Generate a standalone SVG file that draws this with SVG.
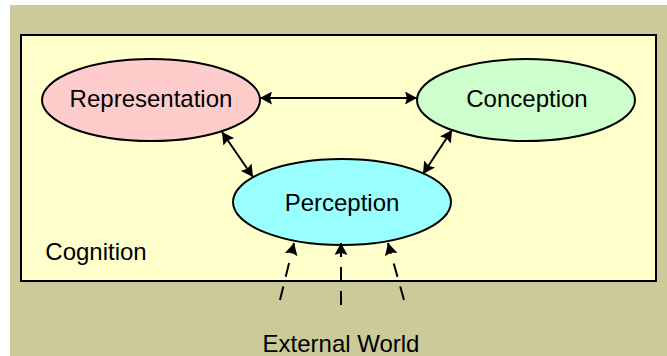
<svg xmlns="http://www.w3.org/2000/svg" width="667" height="356" viewBox="0 0 667 356">
<defs>
<style>
.lbl{font-family:"Liberation Sans",Arial,sans-serif;font-size:24px;fill:#000;text-anchor:middle}
.node{stroke:#000;stroke-width:2}
.conn{stroke:#000;stroke-width:2;fill:none}
.dash{stroke-dasharray:14 10}
</style>
<marker id="ah" viewBox="0 0 12 13" refX="12" refY="6.5" markerWidth="12" markerHeight="13" markerUnits="userSpaceOnUse" orient="auto-start-reverse">
<path d="M0,0 L12,6.5 L0,13 L2,6.5 z" fill="#000"/>
</marker>
</defs>
<rect x="0" y="0" width="667" height="356" fill="#ffffff"/>
<rect x="10" y="5" width="657" height="351" fill="#CCCA99"/>
<g id="cognition">
<rect x="21" y="35" width="635" height="246" fill="#FFFFCC" stroke="#000" stroke-width="2"/>
<text class="lbl" x="96" y="260">Cognition</text>
</g>
<g id="representation">
<ellipse class="node" cx="151" cy="100" rx="109" ry="41" fill="#FFCCCC"/>
<text class="lbl" x="151" y="107">Representation</text>
</g>
<g id="conception">
<ellipse class="node" cx="526" cy="100" rx="109" ry="41" fill="#CCFFCC"/>
<text class="lbl" x="527" y="107">Conception</text>
</g>
<g id="perception">
<ellipse class="node" cx="342" cy="202" rx="109" ry="43" fill="#99FFFF"/>
<text class="lbl" x="342" y="211">Perception</text>
</g>
<g id="external">
<text class="lbl" x="341" y="352">External World</text>
</g>
<g id="connectors">
<line class="conn" x1="260" y1="98" x2="417" y2="98" marker-start="url(#ah)" marker-end="url(#ah)"/>
<line class="conn" x1="222" y1="132" x2="253" y2="177" marker-start="url(#ah)" marker-end="url(#ah)"/>
<line class="conn" x1="452" y1="130" x2="423" y2="174" marker-start="url(#ah)" marker-end="url(#ah)"/>
<line class="conn dash" x1="280" y1="300" x2="294" y2="243" marker-end="url(#ah)"/>
<line class="conn dash" x1="341" y1="305" x2="341" y2="243" marker-end="url(#ah)"/>
<line class="conn dash" x1="404" y1="300" x2="388" y2="243" marker-end="url(#ah)"/>
</g>
</svg>
